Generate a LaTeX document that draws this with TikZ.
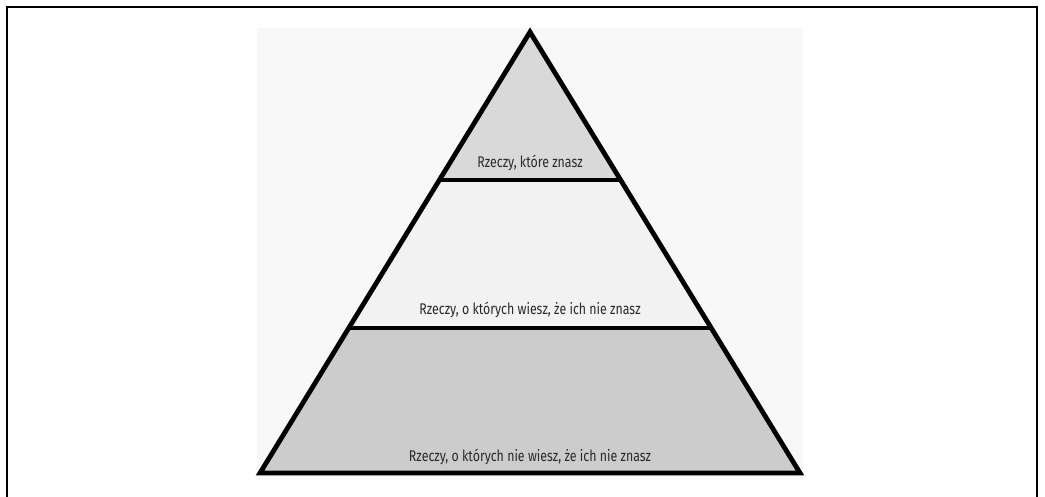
\documentclass[tikz,border=0pt]{standalone}
\usepackage{fontspec}
\setmainfont{Fira Sans}[FakeStretch=0.8]
\usepackage{tikz}
\usetikzlibrary{calc}
\definecolor{pyrTop}{HTML}{D9D9D9}
\definecolor{pyrMid}{HTML}{F2F2F2}
\definecolor{pyrLow}{HTML}{CCCCCC}
\definecolor{pyrBack}{HTML}{F8F8F8}
\definecolor{pyrText}{HTML}{2A2A2A}
\tikzset{
  layer/.style={draw=none},
  edge/.style={line width=3.6pt,line join=miter,black},
  split/.style={line width=3pt,black},
  tag/.style={font=\fontsize{11.6}{13}\selectfont,text=pyrText,inner sep=0pt}
}

\begin{document}
\begin{tikzpicture}[x=0.75pt,y=-0.75pt]
  \useasboundingbox (0,0) rectangle (1045,496);
  % frame and faint backdrop
  \draw[line width=1.4pt] (7,497) -- (7,7) -- (1037,7) -- (1037,497);
  \fill[pyrBack] (257,28) rectangle (803,480);

  \coordinate (apex) at (530,32);
  \coordinate (bl) at (260,473);
  \coordinate (br) at (800,473);
  \coordinate (t1) at ($(apex)!0.3356!(bl)$);
  \coordinate (t2) at ($(apex)!0.3356!(br)$);
  \coordinate (m1) at ($(apex)!0.6712!(bl)$);
  \coordinate (m2) at ($(apex)!0.6712!(br)$);

  \fill[layer,pyrTop] (apex) -- (t2) -- (t1) -- cycle;
  \fill[layer,pyrMid] (t1) -- (t2) -- (m2) -- (m1) -- cycle;
  \fill[layer,pyrLow] (m1) -- (m2) -- (br) -- (bl) -- cycle;

  \draw[split] (t1) -- (t2);
  \draw[split] (m1) -- (m2);
  \draw[edge] (apex) -- (br) -- (bl) -- cycle;

  \node[tag] (known) at (530,163) {Rzeczy, które znasz};
  \node[tag] (knownUnknown) at (530,310) {Rzeczy, o których wiesz, że ich nie znasz};
  \node[tag] (unknownUnknown) at (530,457) {Rzeczy, o których nie wiesz, że ich nie znasz};
\end{tikzpicture}
\end{document}
